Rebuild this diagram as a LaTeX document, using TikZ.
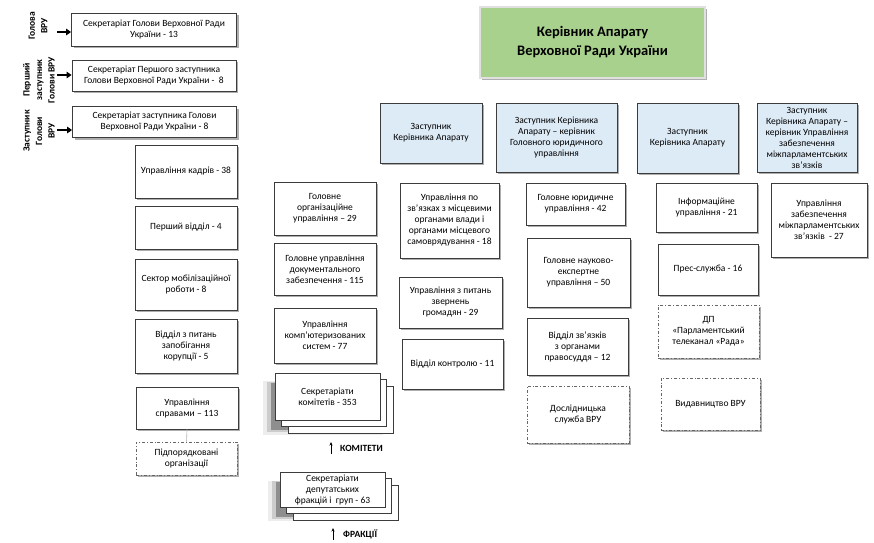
\documentclass[tikz,border=0pt]{standalone}
\usepackage{fontspec}
\setmainfont{Carlito}
\usepackage{xcolor}
\usetikzlibrary{arrows.meta,shadows}
\definecolor{depblue}{RGB}{221,235,247}
\definecolor{headgreen}{RGB}{169,209,142}
\definecolor{edge}{RGB}{60,60,60}
\tikzset{
  blk/.style   = {draw=edge, fill=white, align=center, inner sep=1pt,
                  font=\fontsize{9.5}{11}\selectfont, line width=0.8pt,
                  drop shadow={shadow xshift=2pt, shadow yshift=-2pt,
                               fill=black!70, opacity=.45}},
  dep/.style   = {blk, fill=depblue},
  sub/.style   = {blk, draw=black!60, dash dot, line width=0.6pt},
  head/.style  = {blk, fill=headgreen, draw=black!12, line width=1.2pt,
                  font=\fontsize{14.5}{19}\selectfont\bfseries},
  sz/.style 2 args = {minimum width=#1pt, minimum height=#2pt},
  stk/.style   = {draw=edge, fill=white, align=center, inner sep=1pt,
                  font=\fontsize{9.5}{11}\selectfont, line width=0.8pt,
                  general shadow={shadow xshift=-4pt, shadow yshift=-10pt,
                                  shadow scale=1.14, fill=black, opacity=.07},
                  general shadow={shadow xshift=-4pt, shadow yshift=-10pt,
                                  shadow scale=1.07, fill=black, opacity=.14},
                  general shadow={shadow xshift=-4pt, shadow yshift=-10pt,
                                  fill=black, opacity=.30},
                  general shadow={shadow xshift=13pt, shadow yshift=-13pt,
                                  draw=edge, fill=white},
                  general shadow={shadow xshift=6.5pt, shadow yshift=-6.5pt,
                                  draw=edge, fill=white}},
  side/.style  = {rotate=90, align=center, font=\fontsize{9.5}{12.5}\selectfont\bfseries,
                  inner sep=0pt},
  lbl/.style   = {font=\fontsize{9.5}{11}\selectfont\bfseries, inner sep=0pt, anchor=west},
  arin/.style  = {-{Triangle[length=5pt,width=6.5pt]}, line width=1.8pt},
  ar/.style    = {-{Stealth[length=3.5pt,width=3pt]}, line width=0.7pt},
  lnk/.style   = {draw=black!30, line width=0.6pt},
}

\begin{document}
\begin{tikzpicture}[x=1pt, y=-1pt]
\useasboundingbox (0,0) rectangle (874,542);

% ===== head =====
\node[head, sz={225}{71}] (head) at (592.5,42.5)
     {Керівник Апарату\\Верховної Ради України};

% ===== secretariats of the Chairman and deputies =====
\node[blk, sz={165}{33}] (secG) at (154,29.5)
     {Секретаріат Голови Верховної Ради\\України - 13};
\node[blk, sz={164}{31}] (secP) at (154,75.5)
     {Секретаріат Першого заступника\\Голови Верховної Ради України -\ \ 8};
\node[blk, sz={164}{31}] (secZ) at (154.5,122)
     {Секретаріат заступника Голови\\Верховної Ради України - 8};

\node[side] (golova) at (38,26) {Голова\\ВРУ};
\node[side] (pershyi) at (39,80) {Перший\\заступник\\Голови ВРУ};
\node[side] (zast) at (39,131) {Заступник\\Голови\\ВРУ};

\coordinate (aG) at (57,32);
\coordinate (aP) at (57,75);
\coordinate (aZ) at (57,130);
\draw[arin] (aG) -- (aG -| secG.west);
\draw[arin] (aP) -- (aP -| secP.west);
\draw[arin] (aZ) -- (aZ -| secZ.west);

% ===== left column =====
\node[blk, sz={102}{53}] (kadry) at (186,171.5) {Управління кадрів - 38};
\node[blk, sz={102}{43}] (vid1) at (186,227.5) {Перший відділ - 4};
\node[blk, sz={102}{51}] (mob) at (186,284.5) {Сектор мобілізаційної\\роботи - 8};
\node[blk, sz={102}{54}] (korup) at (186,346) {Відділ з питань\\запобігання\\корупції - 5};
\node[blk, sz={102}{42}] (spravy) at (187,408) {Управління\\справами – 113};
\node[sub, sz={101}{33}] (pidp) at (186.5,458.5) {Підпорядковані\\організації};
\draw[lnk] (spravy.south) -- (pidp.north);

% ===== second column =====
\node[blk, sz={102}{53}] (gou) at (325,208.5) {Головне\\організаційне\\управління – 29};
\node[blk, sz={102}{52}] (gudz) at (325,269) {Головне управління\\документального\\забезпечення - 115};
\node[blk, sz={102}{55}] (uks) at (325,335.5) {Управління\\комп'ютеризованих\\систем - 77};
\node[stk, sz={105}{47}] (sekkom) at (327.5,396.5) {Секретаріати\\комітетів - 353};
\node[stk, sz={105}{35}] (sekfr) at (332.5,489.5) {Секретаріати\\депутатських\\фракцій і\ \ груп - 63};

\node[lbl] (komlbl) at (340,448) {КОМІТЕТИ};
\node[lbl] (frlbl) at (343,534) {ФРАКЦІЇ};
\coordinate (komA) at (331,454);
\coordinate (frA) at (333,540);
\draw[ar] (komA) -- ++(0,-12);
\draw[ar] (frA) -- ++(0,-12);

% ===== deputy 1 =====
\node[dep, sz={102}{60}] (dep1) at (431,133) {Заступник\\Керівника Апарату};
\node[blk, sz={99}{75}] (umo) at (449.5,220.5)
     {Управління по\\зв'язках з місцевими\\органами влади і\\органами місцевого\\самоврядування - 18};
\node[blk, sz={103}{51}] (uzg) at (450.5,302.5) {Управління з питань\\звернень\\громадян - 29};
\node[blk, sz={101}{50}] (vk) at (452.5,364) {Відділ контролю - 11};

% ===== deputy 2 =====
\node[dep, sz={121}{69}] (dep2) at (556.5,137.5)
     {Заступник Керівника\\Апарату – керівник\\Головного юридичного\\управління};
\node[blk, sz={99}{42}] (gju) at (575.5,204) {Головне юридичне\\управління - 42};
\node[blk, sz={103}{69}] (gne) at (578.5,272.5) {Головне науково-\\експертне\\управління – 50};
\node[blk, sz={101}{57}] (vzp) at (577.5,346.5) {Відділ зв'язків\\з органами\\правосуддя – 12};
\node[sub, sz={102}{57}] (dsl) at (578,414.5) {Дослідницька\\служба ВРУ};

% ===== deputy 3 =====
\node[dep, sz={101}{70}] (dep3) at (687.5,138) {Заступник\\Керівника Апарату};
\node[blk, sz={101}{49}] (inf) at (706.5,207.5) {Інформаційне\\управління - 21};
\node[blk, sz={100}{51}] (pres) at (708,269.5) {Прес-служба - 16};
\node[sub, sz={101}{53}] (tele) at (708.5,331.5) {ДП\\«Парламентський\\телеканал «Рада»};
\node[sub, sz={99}{52}] (vyd) at (710.5,404) {Видавництво ВРУ};

% ===== deputy 4 =====
\node[dep, sz={100}{69}] (dep4) at (807,137.5)
     {Заступник\\Керівника Апарату –\\керівник Управління\\забезпечення\\міжпарламентських\\зв'язків};
\node[blk, sz={96}{74}] (umz) at (819,220)
     {Управління\\забезпечення\\міжпарламентських\\зв'язків\ \ - 27};
\end{tikzpicture}
\end{document}
